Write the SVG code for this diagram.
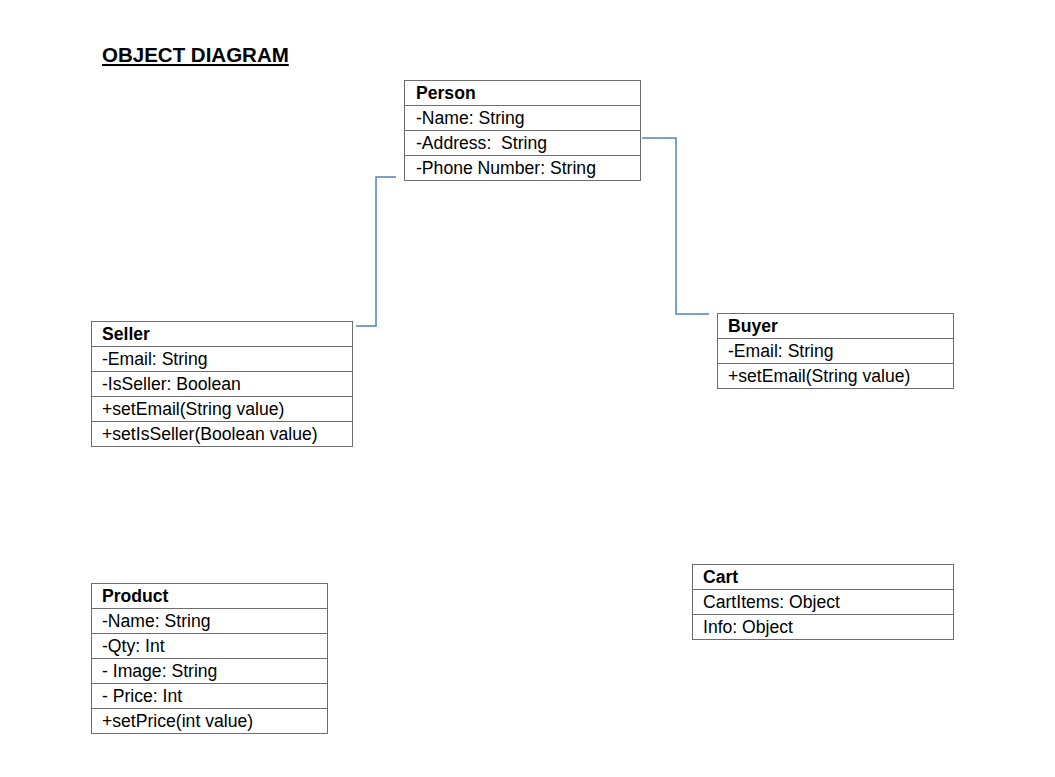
<svg xmlns="http://www.w3.org/2000/svg" width="1055" height="777" viewBox="0 0 1055 777">
<style>
.box{fill:#fff;stroke:#6e6e6e;stroke-width:1}
.t{font-family:"Liberation Sans",Arial,sans-serif;font-size:17.6px;fill:#000}
.h{font-weight:bold}
.title{font-family:"Liberation Sans",Arial,sans-serif;font-size:20.5px;font-weight:bold;text-decoration:underline;fill:#000}
.conn{fill:none;stroke:#4f81bd;stroke-width:1.5}
</style>
<rect width="1055" height="777" fill="#fff"/>
<text class="title" x="102" y="62">OBJECT DIAGRAM</text>
<g id="connectors">
<polyline class="conn" points="356,326 376,326 376,177 396,177"/>
<polyline class="conn" points="642,138 676,138 676,314 709,314"/>
</g>
<g id="person">
<rect class="box" x="404.5" y="80.5" width="236" height="25"/>
<rect class="box" x="404.5" y="105.5" width="236" height="25"/>
<rect class="box" x="404.5" y="130.5" width="236" height="25"/>
<rect class="box" x="404.5" y="155.5" width="236" height="25"/>
<text class="t h" x="416" y="99">Person</text>
<text class="t" x="416" y="124">-Name: String</text>
<text class="t" x="416" y="149" xml:space="preserve">-Address:  String</text>
<text class="t" x="416" y="174">-Phone Number: String</text>
</g>
<g id="seller">
<rect class="box" x="91.5" y="321.5" width="261" height="25"/>
<rect class="box" x="91.5" y="346.5" width="261" height="25"/>
<rect class="box" x="91.5" y="371.5" width="261" height="25"/>
<rect class="box" x="91.5" y="396.5" width="261" height="25"/>
<rect class="box" x="91.5" y="421.5" width="261" height="25"/>
<text class="t h" x="102" y="340">Seller</text>
<text class="t" x="102" y="365">-Email: String</text>
<text class="t" x="102" y="390">-IsSeller: Boolean</text>
<text class="t" x="102" y="415">+setEmail(String value)</text>
<text class="t" x="102" y="440">+setIsSeller(Boolean value)</text>
</g>
<g id="buyer">
<rect class="box" x="717.5" y="313.5" width="236" height="25"/>
<rect class="box" x="717.5" y="338.5" width="236" height="25"/>
<rect class="box" x="717.5" y="363.5" width="236" height="25"/>
<text class="t h" x="728" y="332">Buyer</text>
<text class="t" x="728" y="357">-Email: String</text>
<text class="t" x="728" y="382">+setEmail(String value)</text>
</g>
<g id="product">
<rect class="box" x="91.5" y="583.5" width="236" height="25"/>
<rect class="box" x="91.5" y="608.5" width="236" height="25"/>
<rect class="box" x="91.5" y="633.5" width="236" height="25"/>
<rect class="box" x="91.5" y="658.5" width="236" height="25"/>
<rect class="box" x="91.5" y="683.5" width="236" height="25"/>
<rect class="box" x="91.5" y="708.5" width="236" height="25"/>
<text class="t h" x="102" y="602">Product</text>
<text class="t" x="102" y="627">-Name: String</text>
<text class="t" x="102" y="652">-Qty: Int</text>
<text class="t" x="102" y="677">- Image: String</text>
<text class="t" x="102" y="702">- Price: Int</text>
<text class="t" x="102" y="727">+setPrice(int value)</text>
</g>
<g id="cart">
<rect class="box" x="692.5" y="564.5" width="261" height="25"/>
<rect class="box" x="692.5" y="589.5" width="261" height="25"/>
<rect class="box" x="692.5" y="614.5" width="261" height="25"/>
<text class="t h" x="703" y="583">Cart</text>
<text class="t" x="703" y="608">CartItems: Object</text>
<text class="t" x="703" y="633">Info: Object</text>
</g>
</svg>
